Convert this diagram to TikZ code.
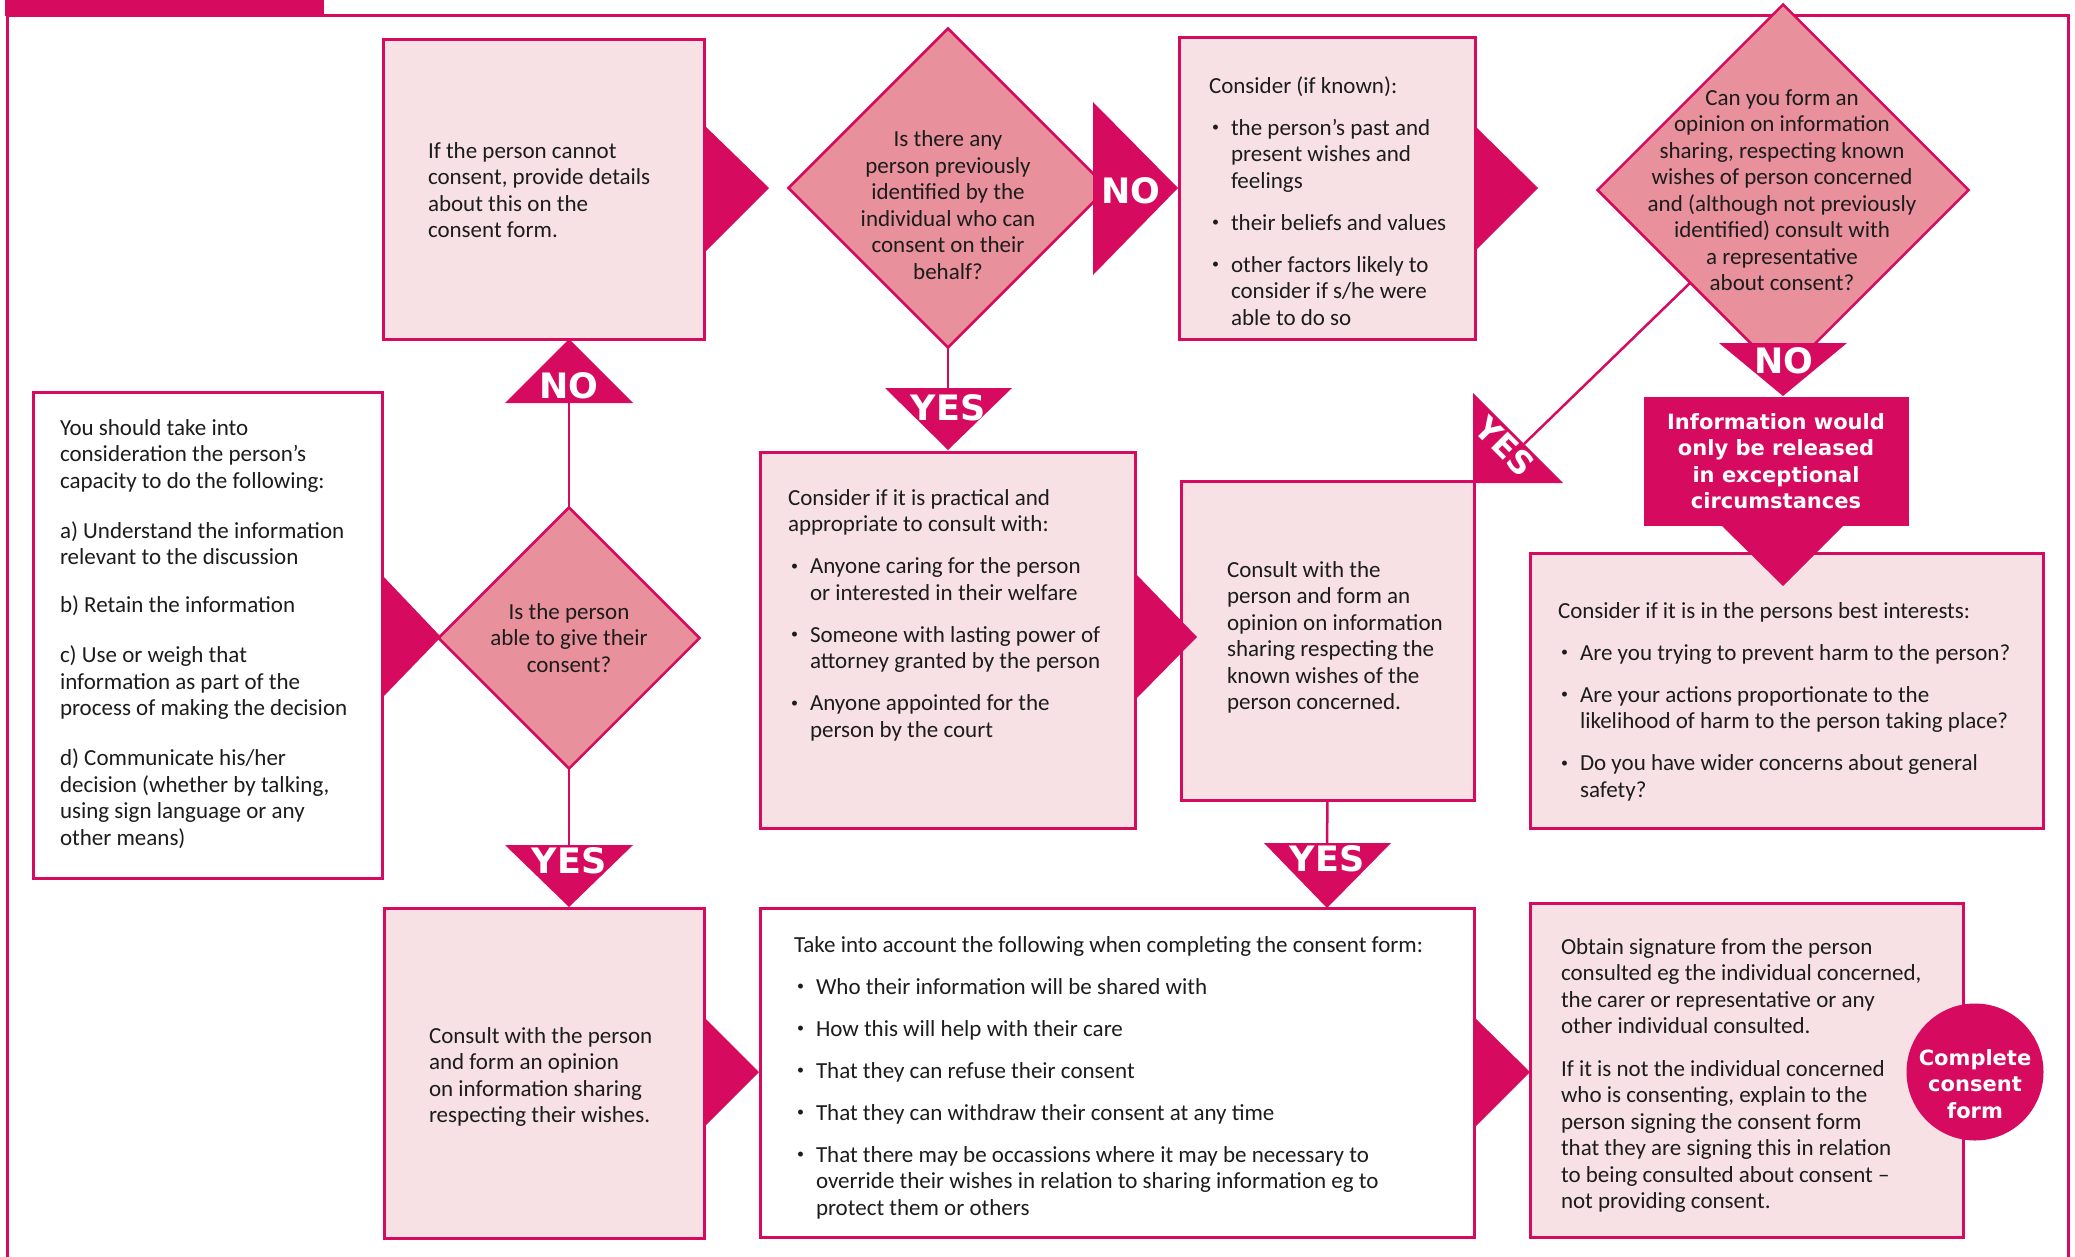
\documentclass[tikz,border=0pt]{standalone}
\usepackage{fontspec}
\setmainfont{Carlito}
\newfontfamily\lblf{DejaVu Sans}
\usetikzlibrary{shapes.geometric}
\definecolor{mag}{HTML}{D60B5F}
\definecolor{lpink}{HTML}{F7E1E4}
\definecolor{dpink}{HTML}{E8909B}
\definecolor{ink}{HTML}{1C1C1C}
\newcommand\bodyf{\fontsize{23}{26.5}\selectfont}
\newcommand\yesf{\lblf\bfseries\fontsize{35}{35}\selectfont}
\newcommand\infof{\lblf\bfseries\fontsize{21}{26.5}\selectfont}
\newcommand\Ln[1]{\hbox{#1}}
\newcommand\Bl[1]{\hbox{\hbox to 22pt{\hskip3pt\raisebox{3.5pt}{\fontsize{14}{14}\selectfont\textbullet}\hfil}#1}}
\newcommand\Cn[1]{\hbox{\hskip22pt #1}}
\newcommand\Gp[1][15.5pt]{\vskip#1\relax}
\newcommand\Cen[1]{\vtop{\halign{\hfil##\hfil\cr#1\crcr}}}
\newcommand\Lft[1]{\vtop{#1}}
\tikzset{
  box/.style={rectangle, draw=mag, line width=3pt, fill=lpink, inner sep=0pt, outer sep=0pt},
  wbox/.style={box, fill=white},
  dia/.style={diamond, aspect=1, draw=mag, line width=2.5pt, fill=dpink, inner sep=0pt, outer sep=0pt},
  txt/.style={inner sep=0pt, outer sep=0pt, font=\bodyf, text=ink},
  lbl/.style={inner sep=0pt, outer sep=0pt, font=\yesf, text=white},
  info/.style={inner sep=0pt, outer sep=0pt, font=\infof, text=white},
  conn/.style={draw=mag, line width=2.5pt},
  tri/.style={fill=mag}
}
\begin{document}
\begin{tikzpicture}[x=1pt,y=-1pt]
\useasboundingbox (0,0) rectangle (2075,1256);
% frame
\fill[mag] (5,0) rectangle (324,16);
\draw[mag, line width=3pt] (7.5,1270) -- (7.5,15.5) -- (2068.5,15.5) -- (2068.5,1270);

% boxes
\node[box, minimum width=321pt, minimum height=300pt] (A) at (543.5,189) {};
\node[dia, minimum width=319pt, minimum height=319pt] (B) at (948,188) {};
\node[box, minimum width=296pt, minimum height=302pt] (C) at (1327,188) {};
\node[dia, minimum width=371pt, minimum height=371pt] (D) at (1783,190) {};
\node[rectangle, fill=mag, inner sep=0pt, outer sep=0pt, minimum width=265pt, minimum height=129pt] (E) at (1776.5,461.5) {};
\node[box, minimum width=513pt, minimum height=275pt] (F) at (1786.5,690.5) {};
\node[box, minimum width=293pt, minimum height=319pt] (G) at (1327.5,640.5) {};
\node[box, minimum width=375pt, minimum height=376pt] (I) at (947.5,640) {};
\node[wbox, minimum width=349pt, minimum height=486pt] (L) at (207.5,635) {};
\node[dia, minimum width=261pt, minimum height=261pt] (J) at (569,638) {};
\node[box, minimum width=320pt, minimum height=330pt] (K) at (544,1073) {};
\node[wbox, minimum width=714pt, minimum height=329pt] (H) at (1117,1072.5) {};
\node[box, minimum width=433pt, minimum height=334pt] (M) at (1746.5,1070) {};
\node[circle, fill=mag, inner sep=0pt, outer sep=0pt, minimum size=137pt] (N) at (1975,1072) {};

% connector lines
\coordinate (noAb) at (569,403);
\coordinate (yesJb) at (569,845);
\coordinate (yesBb) at (948,388);
\coordinate (yesGb) at (1327,843);
\coordinate (yesDb) at (1524,444);
\draw[conn] (J.north) -- (noAb);
\draw[conn] (J.south) -- (yesJb);
\draw[conn] (B.south) -- (yesBb);
\draw[conn] (G.south) -- (yesGb);
\draw[conn] (D.south west) -- (yesDb);

% arrowheads
\fill[tri] (704,125) -- (769,188) -- (704,253) -- cycle;
\fill[tri] (1093,102) -- (1178,188) -- (1093,275) -- cycle;
\fill[tri] (1475,126) -- (1538,188) -- (1475,251) -- cycle;
\fill[tri] (1719,343) -- (1847,343) -- (1783,396) -- cycle;
\fill[tri] (1721,525) -- (1844,525) -- (1783,586) -- cycle;
\fill[tri] (1473,393) -- (1473,483) -- (1563,483) -- cycle;
\fill[tri] (505,403) -- (633,403) -- (569,339) -- cycle;
\fill[tri] (505,845) -- (633,845) -- (569,907) -- cycle;
\fill[tri] (382,575) -- (441,637) -- (382,698) -- cycle;
\fill[tri] (885,388) -- (1012,388) -- (948,450) -- cycle;
\fill[tri] (1135,573) -- (1197,637) -- (1135,700) -- cycle;
\fill[tri] (1264,843) -- (1391,843) -- (1327,908) -- cycle;
\fill[tri] (704,1017) -- (759,1072) -- (704,1127) -- cycle;
\fill[tri] (1474,1017) -- (1530,1072) -- (1474,1128) -- cycle;

% labels
\node[lbl, anchor=base] (noA) at (569,398) {NO};
\node[lbl, anchor=base] (yesJ) at (569,873) {YES};
\node[lbl, anchor=base] (yesB) at (948,420) {YES};
\node[lbl, anchor=base] (noB) at (1131,203) {NO};
\node[lbl, anchor=base] (noD) at (1784,373) {NO};
\node[lbl, anchor=base] (yesG) at (1327,871) {YES};
\node[lbl, rotate=-45, font=\lblf\bfseries\fontsize{32}{32}\selectfont] (yesD) at (1505,446) {YES};

% texts
\node[txt, anchor=base west] (At) at (428,158) {\Lft{\Ln{If the person cannot}\Ln{consent, provide details}\Ln{about this on the}\Ln{consent form.}}};
\node[txt, anchor=base] (Bt) at (948,146.5) {\Cen{Is there any\cr person previously\cr identified by the\cr individual who can\cr consent on their\cr behalf?}};
\node[txt, anchor=base west] (Ct) at (1209,93) {\Lft{\Ln{Consider (if known):}\Gp\Bl{the person’s past and}\Cn{present wishes and}\Cn{feelings}\Gp\Bl{their beliefs and values}\Gp\Bl{other factors likely to}\Cn{consider if s/he were}\Cn{able to do so}}};
\node[txt, anchor=base] (Dt) at (1782,105) {\Cen{Can you form an\cr opinion on information\cr sharing, respecting known\cr wishes of person concerned\cr and (although not previously\cr identified) consult with\cr a representative\cr about consent?}};
\node[info, anchor=base] (Et) at (1776,429) {\Cen{Information would\cr only be released\cr in exceptional\cr circumstances}};
\node[txt, anchor=base west] (Ft) at (1558,618) {\Lft{\Ln{Consider if it is in the persons best interests:}\Gp\Bl{Are you trying to prevent harm to the person?}\Gp\Bl{Are your actions proportionate to the}\Cn{likelihood of harm to the person taking place?}\Gp\Bl{Do you have wider concerns about general}\Cn{safety?}}};
\node[txt, anchor=base west] (Gt) at (1227,577) {\Lft{\Ln{Consult with the}\Ln{person and form an}\Ln{opinion on information}\Ln{sharing respecting the}\Ln{known wishes of the}\Ln{person concerned.}}};
\node[txt, anchor=base west] (It) at (788,505) {\Lft{\Ln{Consider if it is practical and}\Ln{appropriate to consult with:}\Gp\Bl{Anyone caring for the person}\Cn{or interested in their welfare}\Gp\Bl{Someone with lasting power of}\Cn{attorney granted by the person}\Gp\Bl{Anyone appointed for the}\Cn{person by the court}}};
\node[txt, anchor=base west] (Lt) at (60,435) {\Lft{\Ln{You should take into}\Ln{consideration the person’s}\Ln{capacity to do the following:}\Gp[23.5pt]\Ln{a) Understand the information}\Ln{relevant to the discussion}\Gp[21.5pt]\Ln{b) Retain the information}\Gp[23.5pt]\Ln{c) Use or weigh that}\Ln{information as part of the}\Ln{process of making the decision}\Gp[23.5pt]\Ln{d) Communicate his/her}\Ln{decision (whether by talking,}\Ln{using sign language or any}\Ln{other means)}}};
\node[txt, anchor=base] (Jt) at (569,619) {\Cen{Is the person\cr able to give their\cr consent?}};
\node[txt, anchor=base west] (Kt) at (429,1043) {\Lft{\Ln{Consult with the person}\Ln{and form an opinion}\Ln{on information sharing}\Ln{respecting their wishes.}}};
\node[txt, anchor=base west] (Ht) at (794,952) {\Lft{\Ln{Take into account the following when completing the consent form:}\Gp\Bl{Who their information will be shared with}\Gp\Bl{How this will help with their care}\Gp\Bl{That they can refuse their consent}\Gp\Bl{That they can withdraw their consent at any time}\Gp\Bl{That there may be occassions where it may be necessary to}\Cn{override their wishes in relation to sharing information eg to}\Cn{protect them or others}}};
\node[txt, anchor=base west] (Mt) at (1561,954) {\Lft{\Ln{Obtain signature from the person}\Ln{consulted eg the individual concerned,}\Ln{the carer or representative or any}\Ln{other individual consulted.}\Gp[16pt]\Ln{If it is not the individual concerned}\Ln{who is consenting, explain to the}\Ln{person signing the consent form}\Ln{that they are signing this in relation}\Ln{to being consulted about consent –}\Ln{not providing consent.}}};
\node[info, anchor=base] (Nt) at (1975,1065) {\Cen{Complete\cr consent\cr form}};
\end{tikzpicture}
\end{document}
